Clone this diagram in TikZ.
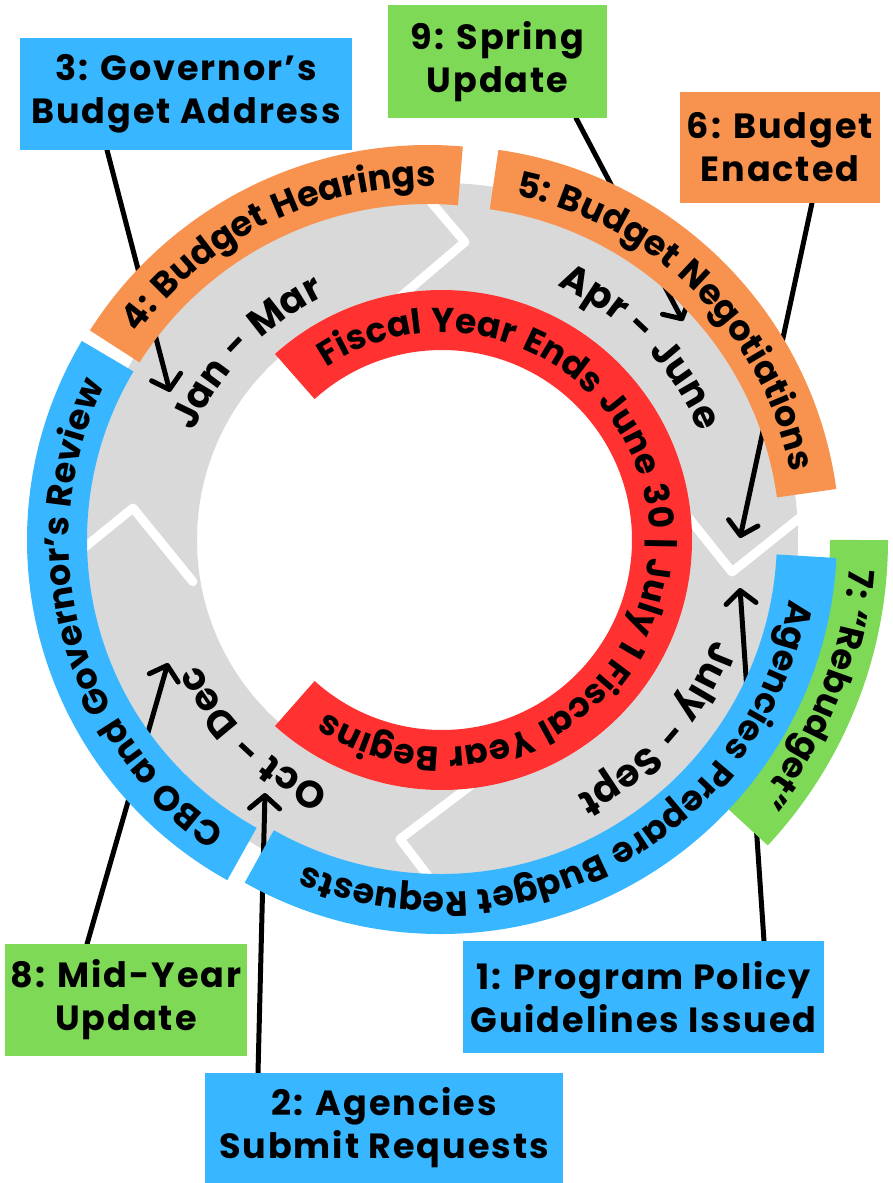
\documentclass[tikz,border=0pt]{standalone}
\usepackage{fontspec}
\setmainfont{Poppins}
\newfontfamily\spaced{Poppins}[LetterSpace=5.5]
\usetikzlibrary{decorations.text,arrows.meta}
\definecolor{cgrey}{HTML}{D9D9D9}
\definecolor{cred}{HTML}{FF3131}
\definecolor{corange}{HTML}{F7924F}
\definecolor{cblue}{HTML}{38B6FF}
\definecolor{cgreen}{HTML}{7ED957}
\newcommand{\bandfont}{\spaced\bfseries\fontsize{35}{35}\selectfont}
\newcommand{\monthfont}{\spaced\bfseries\fontsize{38}{38}\selectfont}
\newcommand{\redfont}{\spaced\bfseries\fontsize{34.5}{34.5}\selectfont}
\newcommand{\boxfont}{\spaced\bfseries\fontsize{35}{43}\selectfont}
% #1 cx, #2 cy, #3 radius, #4 start angle, #5 end angle, #6 text
\newcommand{\arctext}[6]{%
  \path[decorate, decoration={text along path, text align=center,
     text format delimiters={[}{]}, text={#6}}]
     (#1,#2) ++(#4:#3) arc[start angle=#4, end angle=#5, radius=#3];}
\newcommand{\arcband}[7]{% color, cx, cy, radius, width, start, end
  \draw[#1, line width=#5pt] (#2,#3) ++(#6:#4) arc[start angle=#6, end angle=#7, radius=#4];}
\tikzset{
  labelbox/.style={inner sep=0pt, align=center, font=\boxfont, text=black},
  conn/.style={line width=5pt, black, line cap=round, -{Straight Barb[length=13pt,width=30pt,round]}},
  chev/.style={white, line width=9pt, line cap=round, line join=round},
}
\begin{document}
\begin{tikzpicture}[x=1pt,y=1pt]
\useasboundingbox (0,0) rectangle (893,-1183);
% grey ring
\coordinate (G) at (441,-540);
\fill[cgrey, even odd rule] (G) circle[radius=357] (G) circle[radius=244];
% chevrons
\foreach \ax/\ay/\th in {465/242/85.4, 732/572/-6.3, 400/839/262.2, 133/508/174.1} {
  \draw[chev] (\ax,-\ay) ++(\th+45:95) -- (\ax,-\ay) -- ++(\th+135:95);
}
% red ring
\arcband{cred}{442}{-540}{220}{60}{132}{-132}
% connectors
\coordinate (s3) at (107,-150); \coordinate (t3) at (170,-392);
\coordinate (s9) at (576,-118); \coordinate (t9) at (683,-321);
\coordinate (s6) at (812,-203); \coordinate (t6) at (740,-538);
\coordinate (s1) at (764,-941); \coordinate (t1) at (740,-588);
\coordinate (s2) at (258,-1073); \coordinate (t2) at (265,-793);
\coordinate (s8) at (87,-944); \coordinate (t8) at (168,-663);
\draw[conn] (s3) -- (t3);
\draw[conn] (s9) -- (t9);
\draw[conn] (s6) -- (t6);
\draw[conn] (s1) -- (t1);
\draw[conn] (s2) -- (t2);
\draw[conn] (s8) -- (t8);
% bands
\arcband{cgreen}{440}{-540}{419}{58}{0}{-43}
\arcband{cblue}{440}{-537}{367}{60}{-3}{-119.5}
\arcband{corange}{443}{-543}{367}{60}{82}{7.8}
\arcband{corange}{428}{-546}{371.5}{59}{147.5}{85}
\arcband{cblue}{416}{-540}{359}{60}{241}{149.2}
% band texts
\arctext{428}{-546}{359.5}{153.5}{79}{[\bandfont]4: Budget Hearings}
\arctext{443}{-543}{355}{88}{1.8}{[\bandfont]5: Budget Negotiations}
\arctext{440}{-540}{410}{6}{-49}{[\bandfont]7: “Rebudget”}
\arctext{440}{-537}{355}{3}{-125.5}{[\bandfont]Agencies Prepare Budget Requests}
\arctext{416}{-540}{347}{247}{143.2}{[\bandfont]CBO and Governor’s Review}
% red text
\arctext{442}{-540}{207.5}{140}{-140}{[\redfont]Fiscal Year Ends June 30 | July 1 Fiscal Year Begins}
% month labels
\arctext{441}{-540}{270}{186}{86}{[\monthfont]Jan - Mar}
\arctext{441}{-540}{280}{94}{-6}{[\monthfont]Apr - June}
\arctext{441}{-540}{290}{9}{-91}{[\monthfont]July - Sept}
\arctext{441}{-540}{273}{276.5}{176.5}{[\monthfont]Oct - Dec}
% label boxes
\node[labelbox, fill=cblue, minimum width=332pt, minimum height=112pt] (b3) at (186,-94) {3: Governor’s\\Budget Address};
\node[labelbox, fill=cgreen, minimum width=219pt, minimum height=113pt] (b9) at (497.5,-61.5) {9: Spring\\Update};
\node[labelbox, fill=corange, minimum width=200pt, minimum height=111pt] (b6) at (780,-147.5) {6: Budget\\Enacted};
\node[labelbox, fill=cblue, minimum width=361pt, minimum height=112pt] (b1) at (643.5,-997) {1: Program Policy\\Guidelines Issued};
\node[labelbox, fill=cgreen, minimum width=242pt, minimum height=112pt] (b8) at (126,-1000) {8: Mid-Year\\Update};
\node[labelbox, fill=cblue, minimum width=358pt, minimum height=110pt] (b2) at (384,-1128) {2: Agencies\\Submit Requests};
\end{tikzpicture}
\end{document}
